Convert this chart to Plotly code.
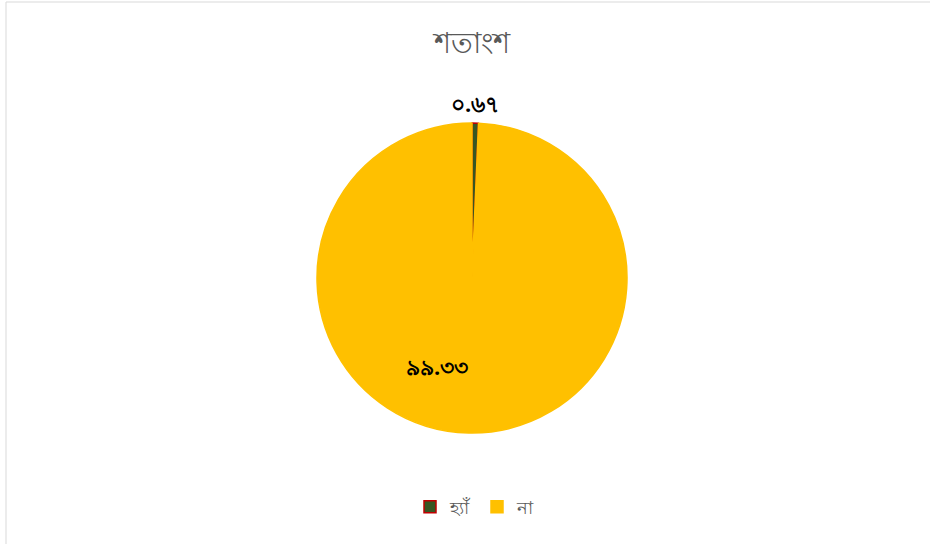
import plotly.graph_objects as go

categories = ["হ্যাঁ", "না"]
values = [0.67, 99.33]
value_labels = ["০.৬৭", "৯৯.৩৩"]
fill_colors = ["#375623", "#FFC000"]
line_colors = ["#C00000", "#FFC000"]
title_text = "শতাংশ"

W, H = 930, 544
# label anchor positions (pixels) for each slice's data label
label_pos = [(475, 103), (437, 366)]

fig = go.Figure(go.Pie(
    labels=categories,
    values=values,
    textinfo="none",
    marker=dict(colors=fill_colors, line=dict(color=line_colors, width=1.5)),
    sort=False,
    direction="clockwise",
    rotation=0,
    domain=dict(x=[317/W, 627/W], y=[1-433/H, 1-123/H]),
    hoverinfo="label+value",
))

annotations = [
    dict(text="<b>" + t + "</b>", x=px / W, y=1 - py / H, xref="paper", yref="paper",
         xanchor="center", yanchor="middle", showarrow=False,
         font=dict(size=22, color="black"))
    for t, (px, py) in zip(value_labels, label_pos)
]

fig.update_layout(
    width=W, height=H,
    margin=dict(l=0, r=0, t=0, b=0),
    paper_bgcolor="white",
    plot_bgcolor="white",
    title=dict(text=title_text, x=472/W, xanchor="center", y=1-43/H, yanchor="middle",
               font=dict(size=29, color="#595959")),
    showlegend=True,
    legend=dict(orientation="h", x=475/W, xanchor="center", y=1-507/H, yanchor="middle",
                font=dict(size=18, color="#595959"), itemwidth=30),
    annotations=annotations,
    shapes=[dict(type="rect", xref="paper", yref="paper", x0=6/W, x1=1.01, y0=-0.01, y1=1-2/H,
                 line=dict(color="#D9D9D9", width=1), fillcolor="rgba(0,0,0,0)", layer="below")],
)

fig.write_html("out.html")
